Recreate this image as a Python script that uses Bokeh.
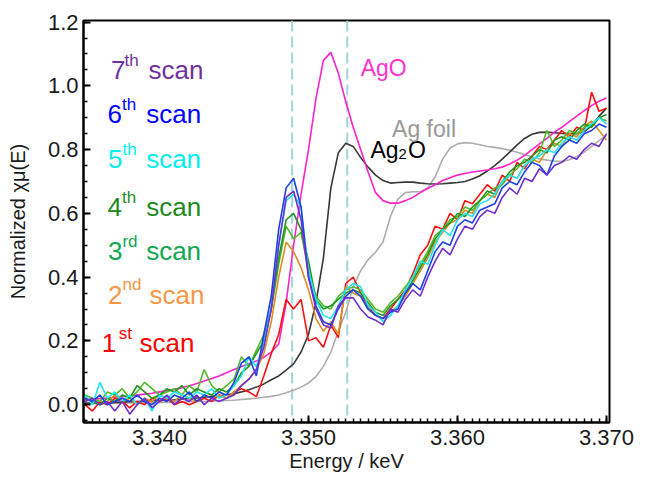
from bokeh.plotting import figure
from bokeh.models import Range1d, SingleIntervalTicker, Span, NumeralTickFormatter, ColumnDataSource
from bokeh.core.properties import value
from bokeh.embed import file_html
from bokeh.resources import INLINE

# ---------------- data ----------------
energy = [3.3350, 3.3355, 3.3360, 3.3365, 3.3370, 3.3375, 3.3380, 3.3385, 3.3390, 3.3395,
          3.3400, 3.3405, 3.3410, 3.3415, 3.3420, 3.3425, 3.3430, 3.3435, 3.3440, 3.3445,
          3.3450, 3.3455, 3.3460, 3.3465, 3.3470, 3.3475, 3.3480, 3.3485, 3.3490, 3.3495,
          3.3500, 3.3505, 3.3510, 3.3515, 3.3520, 3.3525, 3.3530, 3.3535, 3.3540, 3.3545,
          3.3550, 3.3555, 3.3560, 3.3565, 3.3570, 3.3575, 3.3580, 3.3585, 3.3590, 3.3595,
          3.3600, 3.3605, 3.3610, 3.3615, 3.3620, 3.3625, 3.3630, 3.3635, 3.3640, 3.3645,
          3.3650, 3.3655, 3.3660, 3.3665, 3.3670, 3.3675, 3.3680, 3.3685, 3.3690, 3.3695,
          3.3700]

scan1 = [0.00, -0.02, 0.01, 0.00, 0.02, 0.01, -0.01, 0.01, 0.00, 0.02,
         0.01, 0.02, 0.00, 0.01, 0.00, 0.01, 0.02, 0.01, 0.03, 0.02,
         0.04, 0.05, 0.04, 0.025, 0.09, 0.16, 0.22, 0.33, 0.30, 0.33,
         0.20, 0.21, 0.18, 0.25, 0.21, 0.38, 0.40, 0.35, 0.31, 0.28,
         0.27, 0.30, 0.33, 0.36, 0.41, 0.47, 0.50, 0.56, 0.55, 0.60,
         0.58, 0.64, 0.63, 0.66, 0.69, 0.67, 0.72, 0.70, 0.76, 0.74,
         0.78, 0.81, 0.80, 0.83, 0.86, 0.84, 0.87, 0.86, 0.98, 0.92,
         0.93]
scan2 = [0.01, 0.02, 0.00, 0.01, 0.03, 0.01, 0.02, 0.00, 0.02, 0.01,
         0.03, 0.02, 0.01, 0.03, 0.02, 0.01, 0.03, 0.02, 0.03, 0.02,
         0.04, 0.06, 0.08, 0.11, 0.16, 0.26, 0.40, 0.51, 0.48, 0.43,
         0.36, 0.27, 0.23, 0.26, 0.22, 0.37, 0.35, 0.34, 0.30, 0.28,
         0.27, 0.29, 0.31, 0.34, 0.38, 0.42, 0.46, 0.51, 0.54, 0.57,
         0.58, 0.61, 0.60, 0.64, 0.66, 0.65, 0.70, 0.72, 0.71, 0.75,
         0.77, 0.76, 0.80, 0.82, 0.81, 0.85, 0.84, 0.87, 0.89, 0.86,
         0.83]
scan3 = [0.03, 0.02, 0.01, 0.04, 0.03, 0.05, 0.02, 0.04, 0.07, 0.05,
         0.03, 0.04, 0.05, 0.03, 0.06, 0.04, 0.11, 0.06, 0.04, 0.06,
         0.08, 0.15, 0.12, 0.17, 0.22, 0.30, 0.44, 0.56, 0.52, 0.54,
         0.42, 0.34, 0.31, 0.30, 0.34, 0.36, 0.37, 0.36, 0.33, 0.30,
         0.29, 0.32, 0.34, 0.37, 0.40, 0.44, 0.48, 0.53, 0.55, 0.58,
         0.59, 0.62, 0.61, 0.64, 0.66, 0.68, 0.69, 0.72, 0.74, 0.77,
         0.76, 0.79, 0.86, 0.81, 0.83, 0.86, 0.85, 0.87, 0.88, 0.90,
         0.89]
scan4 = [0.02, 0.01, 0.00, 0.02, 0.01, 0.03, 0.02, 0.06, 0.04, 0.02,
         0.03, 0.05, 0.04, 0.06, 0.03, 0.05, 0.04, 0.03, 0.05, 0.04,
         0.06, 0.10, 0.12, 0.16, 0.20, 0.30, 0.46, 0.58, 0.60, 0.55,
         0.45, 0.33, 0.30, 0.31, 0.33, 0.35, 0.36, 0.35, 0.32, 0.29,
         0.28, 0.31, 0.33, 0.35, 0.39, 0.43, 0.47, 0.52, 0.55, 0.57,
         0.60, 0.59, 0.62, 0.64, 0.67, 0.66, 0.70, 0.73, 0.75, 0.76,
         0.78, 0.80, 0.79, 0.83, 0.84, 0.83, 0.86, 0.88, 0.87, 0.90,
         0.91]
scan5 = [0.03, 0.00, 0.07, 0.02, 0.04, 0.01, 0.03, 0.00, 0.02, -0.02,
         0.03, 0.02, 0.04, 0.03, 0.02, 0.04, 0.03, 0.05, 0.02, 0.03,
         0.06, 0.09, 0.15, 0.12, 0.19, 0.31, 0.50, 0.64, 0.66, 0.62,
         0.42, 0.33, 0.28, 0.27, 0.31, 0.36, 0.38, 0.37, 0.31, 0.29,
         0.26, 0.28, 0.31, 0.36, 0.40, 0.45, 0.44, 0.50, 0.55, 0.53,
         0.58, 0.60, 0.59, 0.63, 0.64, 0.66, 0.70, 0.72, 0.71, 0.75,
         0.77, 0.78, 0.80, 0.79, 0.82, 0.84, 0.83, 0.86, 0.88, 0.90,
         0.88]
scan6 = [0.02, 0.01, 0.03, 0.00, 0.01, 0.02, 0.01, 0.03, 0.01, 0.00,
         0.02, 0.01, 0.03, 0.02, 0.04, 0.01, 0.03, 0.02, 0.04, 0.03,
         0.07, 0.13, 0.15, 0.09, 0.22, 0.34, 0.55, 0.68, 0.71, 0.62,
         0.40, 0.31, 0.26, 0.25, 0.30, 0.34, 0.36, 0.34, 0.30, 0.28,
         0.27, 0.29, 0.30, 0.35, 0.38, 0.36, 0.42, 0.48, 0.51, 0.50,
         0.56, 0.58, 0.57, 0.61, 0.62, 0.63, 0.68, 0.70, 0.69, 0.73,
         0.76, 0.75, 0.72, 0.78, 0.81, 0.83, 0.82, 0.85, 0.86, 0.88,
         0.87]
scan7 = [0.01, 0.02, 0.00, 0.01, -0.02, 0.01, -0.03, 0.00, 0.02, -0.01,
         0.01, 0.03, 0.00, 0.02, 0.01, 0.03, 0.00, 0.02, 0.01, 0.02,
         0.03, 0.06, 0.08, 0.11, 0.18, 0.30, 0.50, 0.65, 0.67, 0.58,
         0.40, 0.30, 0.25, 0.24, 0.31, 0.335, 0.335, 0.30, 0.275, 0.265,
         0.25, 0.30, 0.29, 0.33, 0.36, 0.34, 0.40, 0.45, 0.49, 0.47,
         0.52, 0.56, 0.55, 0.59, 0.61, 0.60, 0.65, 0.68, 0.66, 0.71,
         0.70, 0.74, 0.72, 0.75, 0.76, 0.78, 0.77, 0.80, 0.82, 0.81,
         0.85]

ago = [0.015, 0.017, 0.019, 0.021, 0.023, 0.025, 0.027, 0.030, 0.033, 0.036,
       0.040, 0.044, 0.048, 0.053, 0.059, 0.066, 0.074, 0.082, 0.090, 0.100,
       0.110, 0.120, 0.128, 0.137, 0.148, 0.165, 0.190, 0.320, 0.500, 0.660,
       0.800, 0.960, 1.080, 1.105, 1.040, 0.950, 0.870, 0.800, 0.730, 0.665,
       0.640, 0.632, 0.632, 0.640, 0.650, 0.665, 0.678, 0.690, 0.703, 0.712,
       0.720, 0.725, 0.730, 0.733, 0.736, 0.740, 0.745, 0.755, 0.767, 0.782,
       0.800, 0.818, 0.835, 0.855, 0.870, 0.888, 0.905, 0.922, 0.938, 0.952,
       0.962]
ag2o = [0.005, 0.005, 0.006, 0.006, 0.007, 0.008, 0.009, 0.010, 0.011, 0.012,
        0.013, 0.014, 0.015, 0.017, 0.019, 0.021, 0.023, 0.026, 0.028, 0.031,
        0.034, 0.040, 0.047, 0.055, 0.065, 0.078, 0.090, 0.108, 0.128, 0.165,
        0.220, 0.320, 0.460, 0.680, 0.790, 0.820, 0.810, 0.775, 0.745, 0.720,
        0.703, 0.695, 0.697, 0.698, 0.698, 0.695, 0.693, 0.692, 0.693, 0.695,
        0.697, 0.700, 0.708, 0.718, 0.733, 0.750, 0.770, 0.792, 0.815, 0.835,
        0.848, 0.854, 0.855, 0.853, 0.851, 0.850, 0.850, 0.856, 0.875, 0.905,
        0.930]
ag_foil = [0.003, 0.003, 0.004, 0.004, 0.004, 0.005, 0.005, 0.005, 0.006, 0.006,
           0.007, 0.007, 0.008, 0.008, 0.009, 0.010, 0.010, 0.011, 0.012, 0.013,
           0.014, 0.016, 0.018, 0.020, 0.023, 0.026, 0.030, 0.037, 0.045, 0.055,
           0.068, 0.088, 0.120, 0.165, 0.230, 0.290, 0.370, 0.420, 0.455, 0.478,
           0.510, 0.590, 0.645, 0.665, 0.668, 0.668, 0.680, 0.715, 0.770, 0.805,
           0.818, 0.822, 0.820, 0.815, 0.810, 0.807, 0.803, 0.798, 0.792, 0.785,
           0.777, 0.771, 0.767, 0.764, 0.763, 0.768, 0.778, 0.792, 0.810, 0.828,
           0.845]

edge_lines = [3.3489, 3.3526]

scan_series = [scan1, scan2, scan3, scan4, scan5, scan6, scan7]
scan_numbers = ["1", "2", "3", "4", "5", "6", "7"]
scan_suffixes = ["st", "nd", "rd", "th", "th", "th", "th"]
scan_word = "scan"

# ---------------- styles / positions ----------------
scan_line_colors = ["#ff1010", "#d98e22", "#52bb2a", "#1f961f", "#1fe6f2", "#1c3fe6", "#6f2fd0"]
scan_label_colors = ["#ff0000", "#f79646", "#10a850", "#1e8a1e", "#00f0f0", "#0000ff", "#7030a0"]
label_x = [3.33613, 3.33654, 3.33654, 3.33651, 3.33654, 3.33651, 3.33675]
label_y = [0.192, 0.345, 0.481, 0.619, 0.769, 0.9105, 1.049]
sup_dx = [17.0, 14.5, 14.5, 14.5, 14.5, 14.5, 13.5]
word_dx = [37.6, 41.5, 38.2, 38.7, 38.2, 38.7, 37.5]

FONT = "Liberation Sans"

p = figure(width=634, height=479, output_backend="svg", toolbar_location=None,
           x_range=Range1d(3.3349, 3.3702), y_range=Range1d(-0.056, 1.205),
           min_border_left=83, min_border_top=20, min_border_right=25, min_border_bottom=57)
p.grid.visible = False
p.outline_line_color = "black"
p.outline_line_width = 2
p.background_fill_color = "white"
p.border_fill_color = "white"

for loc in edge_lines:
    p.add_layout(Span(location=loc, dimension="height", line_color="#a2d3d9",
                      line_dash="11 5", line_width=2, level="underlay"))

# reference spectra
p.line(energy, ag_foil, line_color="#adadad", line_width=1.6)
p.line(energy, ag2o, line_color="#383838", line_width=1.6)
p.line(energy, ago, line_color="#ff22cc", line_width=1.6)

# scans
for vals, col in zip(scan_series, scan_line_colors):
    p.line(energy, vals, line_color=col, line_width=1.6)

# scan labels
src = ColumnDataSource(dict(x=label_x, y=label_y, num=scan_numbers, sup=scan_suffixes,
                            word=[scan_word] * 7, color=scan_label_colors,
                            sdx=sup_dx, wdx=word_dx))
common = dict(source=src, text_color="color", text_font=value(FONT),
              text_baseline="alphabetic", text_align="left")
p.text(x="x", y="y", text="num", text_font_size=value("26px"), **common)
p.text(x="x", y="y", text="sup", x_offset="sdx", y_offset=-10,
       text_font_size=value("17px"), **common)
p.text(x="x", y="y", text="word", x_offset="wdx", text_font_size=value("26px"), **common)

# reference labels
ref_font = dict(text_font=value(FONT), text_baseline="alphabetic", text_align="left")
p.text(x=[3.35350], y=[1.055], text=["AgO"], text_color="#ff33cc",
       text_font_size=value("23px"), **ref_font)
p.text(x=[3.35416], y=[0.7975], text=["Ag"], text_color="black",
       text_font_size=value("23px"), **ref_font)
p.text(x=[3.35416], y=[0.7975], text=["2"], text_color="black", x_offset=28, y_offset=4,
       text_font_size=value("15px"), **ref_font)
p.text(x=[3.35416], y=[0.7975], text=["O"], text_color="black", x_offset=37.5,
       text_font_size=value("23px"), **ref_font)
p.text(x=[3.35561], y=[0.8634], text=["Ag foil"], text_color="#999999",
       text_font_size=value("23px"), **ref_font)

# axes
p.xaxis.ticker = SingleIntervalTicker(interval=0.01, num_minor_ticks=20)
p.xaxis.formatter = NumeralTickFormatter(format="0.000")
p.yaxis.ticker = SingleIntervalTicker(interval=0.2, num_minor_ticks=4)
p.yaxis.formatter = NumeralTickFormatter(format="0.0")
for ax in (p.xaxis, p.yaxis):
    ax.axis_line_color = "black"
    ax.axis_line_width = 2
    ax.major_tick_in = 7
    ax.major_tick_out = 0
    ax.minor_tick_in = 4
    ax.minor_tick_out = 0
    ax.major_tick_line_width = 2
    ax.minor_tick_line_width = 1.5
    ax.major_tick_line_color = "black"
    ax.minor_tick_line_color = "black"
    ax.major_label_text_font = FONT
    ax.major_label_text_font_size = "22px"
    ax.major_label_text_color = "#1a1a1a"
    ax.axis_label_text_font = FONT
    ax.axis_label_text_font_size = "20px"
    ax.axis_label_text_font_style = "normal"
    ax.axis_label_text_color = "#1a1a1a"
p.xaxis.axis_label = "Energy / keV"
p.yaxis.axis_label = "Normalized χμ(E)"
p.xaxis.major_label_standoff = 7
p.xaxis.axis_label_standoff = 2
p.yaxis.major_label_standoff = 5
p.yaxis.axis_label_standoff = 16

open("out.html", "w").write(file_html(p, INLINE))
